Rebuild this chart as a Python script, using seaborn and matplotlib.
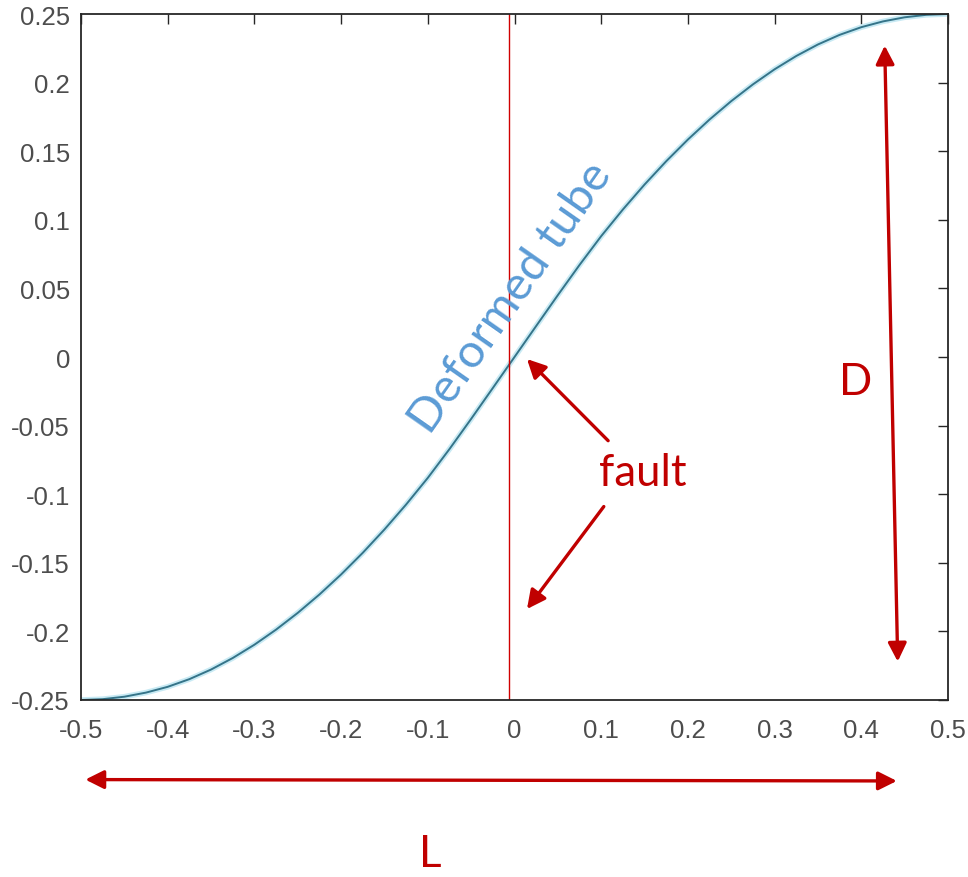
import numpy as np
import pandas as pd
import matplotlib
matplotlib.use("Agg")
import matplotlib.pyplot as plt
import seaborn as sns

# tube centreline
x_pos = [-0.5, -0.475, -0.45, -0.425, -0.4, -0.375, -0.35, -0.325, -0.3, -0.275,
         -0.25, -0.225, -0.2, -0.175, -0.15, -0.125, -0.1, -0.075, -0.05, -0.025,
         0.0, 0.025, 0.05, 0.075, 0.1, 0.125, 0.15, 0.175, 0.2, 0.225,
         0.25, 0.275, 0.3, 0.325, 0.35, 0.375, 0.4, 0.425, 0.45, 0.475, 0.5]
y_disp = [-0.2500, -0.2494, -0.2476, -0.2446, -0.2404, -0.2348, -0.2278, -0.2194, -0.2097, -0.1987,
          -0.1865, -0.1731, -0.1585, -0.1427, -0.1257, -0.1075, -0.0881, -0.0671, -0.0451, -0.0226,
          0.0, 0.0226, 0.0451, 0.0671, 0.0881, 0.1075, 0.1257, 0.1427, 0.1585, 0.1731,
          0.1865, 0.1987, 0.2097, 0.2194, 0.2278, 0.2348, 0.2404, 0.2446, 0.2476, 0.2494, 0.2500]
fault_x = -0.006

x_ticks = [-0.5, -0.4, -0.3, -0.2, -0.1, 0, 0.1, 0.2, 0.3, 0.4, 0.5]
x_labels = ["-0.5", "-0.4", "-0.3", "-0.2", "-0.1", "0", "0.1", "0.2", "0.3", "0.4", "0.5"]
y_ticks = [-0.25, -0.2, -0.15, -0.1, -0.05, 0, 0.05, 0.1, 0.15, 0.2, 0.25]
y_labels = ["-0.25", "-0.2", "-0.15", "-0.1", "-0.05", "0", "0.05", "0.1", "0.15", "0.2", "0.25"]

df = pd.DataFrame({"x": x_pos, "y": y_disp})

sns.set_style("white")
plt.rcParams["font.family"] = ["Liberation Sans", "DejaVu Sans"]

fig = plt.figure(figsize=(9.68, 8.78), dpi=100)
ax = fig.add_axes([81 / 968, 177 / 878, 867 / 968, 686 / 878])

red = "#c00000"

# thin halo + core like the original rendering
sns.lineplot(data=df, x="x", y="y", ax=ax, color="#c8eaf4", linewidth=4.0, sort=False)
sns.lineplot(data=df, x="x", y="y", ax=ax, color="#357489", linewidth=1.4, sort=False)
ax.axvline(fault_x, color="#d00000", linewidth=1.0)

ax.set_xlim(-0.5, 0.5)
ax.set_ylim(-0.25, 0.25)
ax.set_xticks(x_ticks)
ax.set_xticklabels(x_labels)
ax.set_yticks(y_ticks)
ax.set_yticklabels(y_labels)
ax.set_xlabel("")
ax.set_ylabel("")
ax.tick_params(direction="in", length=7, width=1.0, color="#262626", labelsize=18.5,
               labelcolor="#4d4d4d", top=True, right=True, pad=8)
ax.tick_params(axis="x", pad=13)
for sp in ax.spines.values():
    sp.set_color("#262626")
    sp.set_linewidth(1.3)

arrow_kw = dict(color=red, lw=2.4, mutation_scale=28, shrinkA=0, shrinkB=0)
txt_font = ["Lato", "DejaVu Sans"]

# L and D dimension arrows
ax.annotate("", xy=(-0.495, -0.308), xytext=(0.441, -0.309), annotation_clip=False,
            arrowprops=dict(arrowstyle="<|-|>", **arrow_kw))
ax.annotate("", xy=(0.427, 0.227), xytext=(0.442, -0.222), annotation_clip=False,
            arrowprops=dict(arrowstyle="<|-|>", **arrow_kw))

# fault arrows
ax.annotate("", xy=(0.0144, -0.0015), xytext=(0.108, -0.061),
            arrowprops=dict(arrowstyle="-|>", **arrow_kw))
ax.annotate("", xy=(0.0144, -0.1837), xytext=(0.103, -0.109),
            arrowprops=dict(arrowstyle="-|>", **arrow_kw))

ax.text(0.148, -0.084, "fault", color=red, fontsize=31.5, family=txt_font,
        ha="center", va="center")
ax.text(0.393, -0.018, "D", color=red, fontsize=31.5, family=txt_font,
        ha="center", va="center")
ax.text(-0.0975, -0.362, "L", color=red, fontsize=31.5, family=txt_font,
        ha="center", va="center", clip_on=False)
ax.text(-0.004, 0.044, "Deformed tube", color="#5b9bd5", fontsize=34, family=txt_font,
        ha="center", va="center", rotation=55, rotation_mode="anchor")

fig.savefig("out.png", dpi=100)
